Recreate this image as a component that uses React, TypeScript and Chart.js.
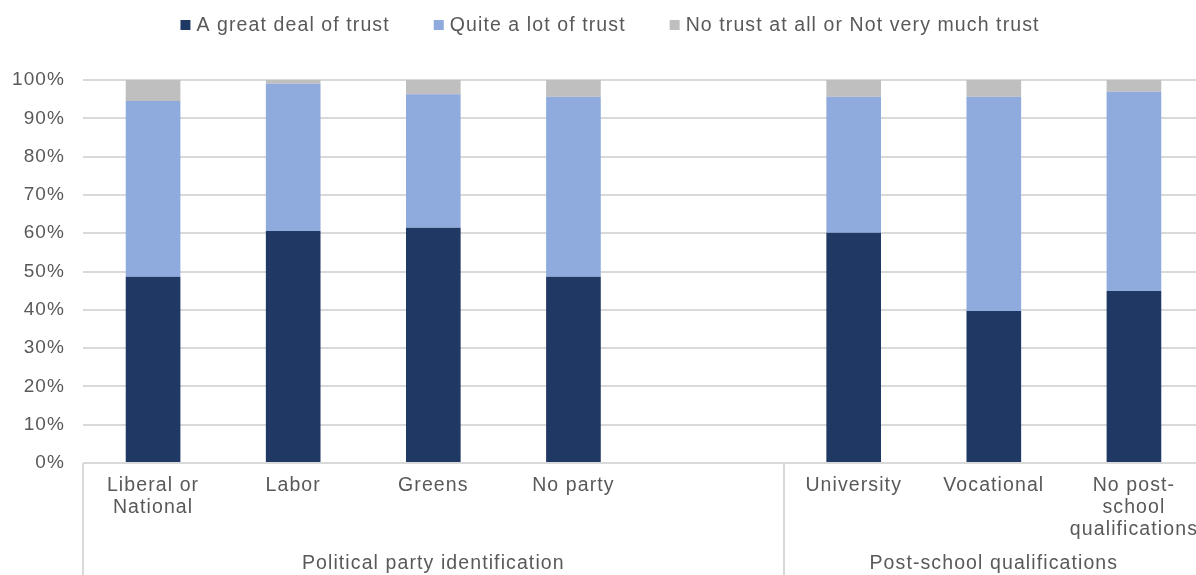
import { useEffect, useRef } from "react";
import { Chart, registerables } from "chart.js";

Chart.register(...registerables);

// ---- data ----
const categories: string[][] = [
  ["Liberal or", "National"],
  ["Labor"],
  ["Greens"],
  ["No party"],
  [""],
  ["University"],
  ["Vocational"],
  ["No post-", "school", "qualifications"],
];
const seriesLabels = [
  "A great deal of trust",
  "Quite a lot of trust",
  "No trust at all or Not very much trust",
];
const greatDeal = [48.6, 60.6, 61.4, 48.6, null, 60.1, 39.7, 44.9];
const quiteALot = [45.9, 38.4, 34.9, 47.0, null, 35.5, 55.9, 52.0];
const noTrust = [5.5, 1.0, 3.7, 4.4, null, 4.4, 4.4, 3.1];
const yTickLabels = ["0%", "10%", "20%", "30%", "40%", "50%", "60%", "70%", "80%", "90%", "100%"];
const groupLabels = ["Political party identification", "Post-school qualifications"];
const groupStart = [0, 5];
const groupEnd = [4, 7];

// ---- styles ----
const FONT = "'Liberation Sans', Arial, sans-serif";
const TEXT = "#595959";
const GRID = "#d9d9d9";
const SPACING = "1.1px";
const COLORS = ["#203864", "#8faadc", "#bfbfbf"];
const VIEW_W = 1196;
const CANVAS_W = 1204;
const CANVAS_H = 575;

const spacingPlugin = {
  id: "letterSpacing",
  beforeUpdate(c: any) { c.ctx.letterSpacing = SPACING; },
  beforeLayout(c: any) { c.ctx.letterSpacing = SPACING; },
  beforeDraw(c: any) { c.ctx.letterSpacing = SPACING; },
};

const legendPlugin = {
  id: "customLegend",
  afterDraw(chart: any) {
    const ctx = chart.ctx;
    ctx.save();
    ctx.letterSpacing = SPACING;
    ctx.font = `19.5px ${FONT}`;
    const box = 10, gap = 6, between = 44;
    const items = chart.data.datasets.map((ds: any) => ({
      label: ds.label,
      color: ds.backgroundColor,
      w: ctx.measureText(ds.label).width,
    }));
    const total = items.reduce((s: number, it: any) => s + box + gap + it.w, 0) + between * (items.length - 1);
    let x = VIEW_W / 2 + 12 - total / 2;
    const y = 25;
    items.forEach((it: any) => {
      ctx.fillStyle = it.color;
      ctx.fillRect(x, y - 5, box, box);
      ctx.fillStyle = TEXT;
      ctx.textBaseline = "middle";
      ctx.textAlign = "left";
      ctx.fillText(it.label, x + box + gap, y + 1);
      x += box + gap + it.w + between;
    });
    ctx.restore();
  },
};

const groupPlugin = {
  id: "groups",
  afterDraw(chart: any) {
    const ctx = chart.ctx;
    const xs = chart.scales.x;
    const area = chart.chartArea;
    const half = (xs.getPixelForValue(1) - xs.getPixelForValue(0)) / 2;
    ctx.save();
    ctx.letterSpacing = SPACING;
    ctx.strokeStyle = GRID;
    ctx.lineWidth = 2;
    ctx.font = `19.5px ${FONT}`;
    ctx.fillStyle = TEXT;
    ctx.textAlign = "center";
    ctx.textBaseline = "middle";
    groupLabels.forEach((label, i) => {
      const left = xs.getPixelForValue(groupStart[i]) - half;
      const right = xs.getPixelForValue(groupEnd[i]) + half;
      [left, right].forEach((lx) => {
        const px = Math.round(lx);
        ctx.beginPath();
        ctx.moveTo(px, area.bottom);
        ctx.lineTo(px, chart.height);
        ctx.stroke();
      });
      ctx.fillText(label, (left + right) / 2, 564);
    });
    ctx.restore();
  },
};

export default function App() {
  const ref = useRef<HTMLCanvasElement>(null);

  useEffect(() => {
    if (!ref.current) return;
    const chart = new Chart(ref.current, {
      type: "bar",
      data: {
        labels: categories as any,
        datasets: [greatDeal, quiteALot, noTrust].map((d, i) => ({
          label: seriesLabels[i],
          data: d as any,
          backgroundColor: COLORS[i],
          borderWidth: 0,
          categoryPercentage: 0.39,
          barPercentage: 1,
        })),
      },
      options: {
        responsive: false,
        animation: false,
        layout: { padding: { top: 80, left: 0, right: 0, bottom: 0 } },
        plugins: {
          legend: { display: false },
          tooltip: { enabled: false },
        },
        scales: {
          x: {
            stacked: true,
            grid: { display: false, drawTicks: false },
            border: { display: false },
            ticks: {
              autoSkip: false,
              maxRotation: 0,
              minRotation: 0,
              padding: 12,
              color: TEXT,
              font: { family: FONT, size: 19.5, lineHeight: "22px" as any },
            },
            afterFit: (s: any) => {
              s.height = 112;
              s.paddingLeft = 0;
              s.paddingRight = 0;
            },
          },
          y: {
            stacked: true,
            min: 0,
            max: 100,
            grid: { color: GRID, lineWidth: 2, drawTicks: false },
            border: { display: false },
            ticks: {
              stepSize: 10,
              padding: 18,
              color: TEXT,
              font: { family: FONT, size: 19 },
              callback: (_v: any, i: number) => yTickLabels[i],
            },
            afterFit: (s: any) => {
              s.width = 83;
              s.paddingTop = 0;
              s.paddingBottom = 0;
            },
          },
        },
      },
      plugins: [spacingPlugin, legendPlugin, groupPlugin],
    });
    return () => chart.destroy();
  }, []);

  return (
    <div
      style={{
        position: "absolute",
        left: 0,
        top: 0,
        width: VIEW_W,
        height: CANVAS_H,
        overflow: "hidden",
        background: "#fff",
      }}
    >
      <canvas ref={ref} width={CANVAS_W} height={CANVAS_H} style={{ display: "block" }} />
    </div>
  );
}
